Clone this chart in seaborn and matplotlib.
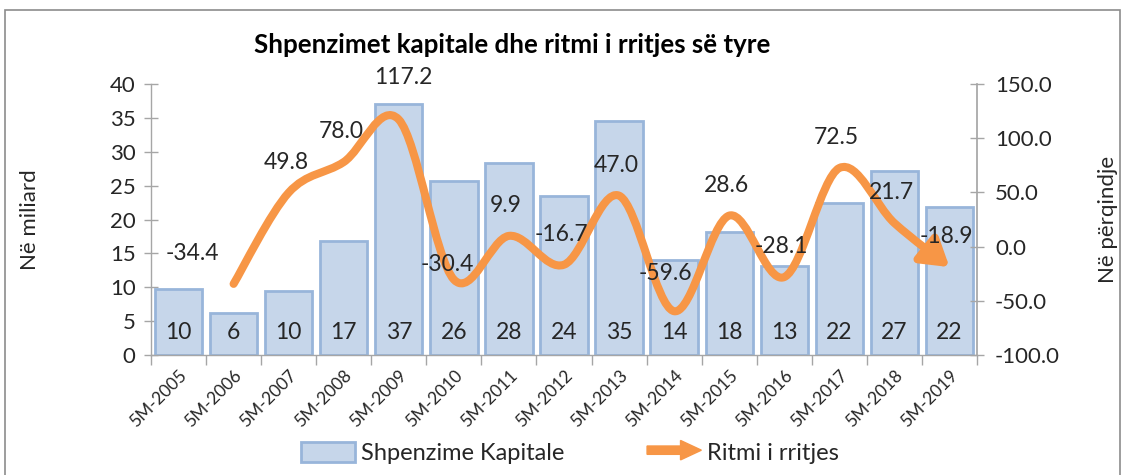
import numpy as np
import pandas as pd
import seaborn as sns
import matplotlib
matplotlib.use('Agg')
from matplotlib import pyplot as plt
from matplotlib.path import Path
import matplotlib.patches as mpatches
from matplotlib.legend_handler import HandlerPatch

# data
years = ['5M-2005', '5M-2006', '5M-2007', '5M-2008', '5M-2009', '5M-2010', '5M-2011',
         '5M-2012', '5M-2013', '5M-2014', '5M-2015', '5M-2016', '5M-2017', '5M-2018', '5M-2019']
capex = [9.7, 6.2, 9.4, 16.9, 37.1, 25.7, 28.4, 23.5, 34.6, 14.0, 18.1, 13.1, 22.4, 27.2, 21.9]
capex_labels = ['10', '6', '10', '17', '37', '26', '28', '24', '35', '14', '18', '13', '22', '27', '22']
growth_years = years[1:]
growth = [-34.4, 49.8, 78.0, 117.2, -30.4, 9.9, -16.7, 47.0, -59.6, 28.6, -28.1, 72.5, 21.7, -18.9]

BAR_FACE = '#C6D6EA'
BAR_EDGE = '#98B5DA'
ORANGE = '#F79646'
AXIS = '#A6A6A6'
TEXT = '#262626'

# label nudges (points) where the default spot above the point is not used
label_offset = {'5M-2006': (-30, 22), '5M-2009': (3, 30), '5M-2010': (-5, 11), '5M-2014': (-6, 27)}

sns.set_theme(style='white')
plt.rcParams['font.family'] = ['Lato', 'DejaVu Sans']

df = pd.DataFrame({'year': years, 'capex': capex})

W, H = 1127, 475
fig = plt.figure(figsize=(W / 100, H / 100), dpi=100)
ax1 = fig.add_axes([151 / W, 1 - 355 / H, (977 - 151) / W, (355 - 84) / H])

sns.barplot(data=df, x='year', y='capex', ax=ax1, color=BAR_FACE, saturation=1,
            edgecolor=BAR_EDGE, linewidth=2, width=0.86)
ax1.set_xlim(-0.5, len(years) - 0.5)
ax1.set_ylim(0, 40)
ax1.set_yticks(np.arange(0, 41, 5))
ax1.set_xlabel('')
ax1.set_ylabel('Në miliard', fontsize=16, color=TEXT)
ax1.yaxis.set_label_coords((40 - 151) / 826, 0.5)

# bar value labels near the base
for i, lab in enumerate(capex_labels):
    ax1.annotate(lab, xy=(i, 0), xytext=(0, 16), textcoords='offset points',
                 ha='center', va='center', fontsize=16.5, color=TEXT)

# x ticks between categories
ax1.set_xticks(range(len(years)))
ax1.set_xticklabels(years, rotation=45, ha='right', rotation_mode='anchor',
                    fontsize=12.5, color=TEXT)
ax1.set_xticks(np.arange(-0.5, len(years), 1), minor=True)
ax1.tick_params(axis='x', which='major', length=0, pad=9)
ax1.tick_params(axis='x', which='minor', length=7, width=1, color=AXIS, direction='out', bottom=True)
ax1.tick_params(axis='y', length=10, width=1, color=AXIS, direction='inout',
                labelsize=16, labelcolor=TEXT, pad=6, left=True)

for side in ['top', 'right']:
    ax1.spines[side].set_visible(False)
for side in ['left', 'bottom']:
    ax1.spines[side].set_color(AXIS)
    ax1.spines[side].set_linewidth(1)

# secondary axis for growth rate
ax2 = ax1.twinx()
ax2.set_ylim(-100, 150)
ax2.set_yticks(np.arange(-100, 151, 50))
ax2.set_yticklabels([f'{v:.1f}' for v in np.arange(-100, 151, 50)])
ax2.tick_params(axis='y', length=10, width=1, color=AXIS, direction='inout',
                labelsize=16, labelcolor=TEXT, pad=8, right=True)
ax2.set_ylabel('Në përqindje', fontsize=16, color=TEXT, rotation=90)
ax2.yaxis.set_label_coords((1098 - 151) / 826, 0.5)
for side in ['top', 'left', 'bottom']:
    ax2.spines[side].set_visible(False)
ax2.spines['right'].set_color(AXIS)
ax2.grid(False)
ax1.grid(False)

# smooth (Excel-style) bezier through the growth points, ending in an arrow
gx = np.array([years.index(y) for y in growth_years], dtype=float)
gy = np.array(growth, dtype=float)
pts = np.column_stack([gx, gy])
verts = [pts[0]]
codes = [Path.MOVETO]
n = len(pts)
for i in range(n - 1):
    p0 = pts[i - 1] if i > 0 else pts[i]
    p1 = pts[i]
    p2 = pts[i + 1]
    p3 = pts[i + 2] if i + 2 < n else pts[i + 1]
    c1 = p1 + (p2 - p0) / 6.0
    c2 = p2 - (p3 - p1) / 6.0
    verts += [c1, c2, p2]
    codes += [Path.CURVE4] * 3
curve = Path(np.array(verts), codes)
arrow = mpatches.FancyArrowPatch(path=curve, arrowstyle='-|>,head_length=0.8,head_width=0.5',
                                 mutation_scale=20, color=ORANGE, lw=5.8,
                                 transform=ax2.transData, capstyle='round', joinstyle='round')
ax2.add_patch(arrow)

for yr, x, y in zip(growth_years, gx, gy):
    ax2.annotate(f'{y:.1f}', xy=(x, y), xytext=label_offset.get(yr, (-2, 22)),
                 textcoords='offset points', ha='center', va='center',
                 fontsize=16.5, color=TEXT)

ax1.set_zorder(1)
ax2.set_zorder(2)

fig.text(512 / W, 1 - 45 / H, 'Shpenzimet kapitale dhe ritmi i rritjes së tyre',
         ha='center', va='center', fontsize=18.6, fontweight='bold', color='black')


# legend with an arrow handle for the line
def make_arrow(legend, orig_handle, xdescent, ydescent, width, height, fontsize):
    return mpatches.FancyArrow(0, height / 2, width, 0, width=6, head_width=14,
                               head_length=15, length_includes_head=True, color=ORANGE)


bar_handle = mpatches.Rectangle((0, 0), 1, 1, facecolor=BAR_FACE, edgecolor=BAR_EDGE, linewidth=2)
line_handle = mpatches.FancyArrow(0, 0, 1, 0, color=ORANGE)
fig.legend([bar_handle, line_handle], ['Shpenzime Kapitale', 'Ritmi i rritjes'],
           loc='center', bbox_to_anchor=(570 / W, 1 - 453 / H), ncol=2, frameon=False,
           fontsize=17, handlelength=2.3, handleheight=0.9, columnspacing=3.5,
           handletextpad=0.25, labelcolor=TEXT,
           handler_map={mpatches.FancyArrow: HandlerPatch(patch_func=make_arrow)})

# outer chart border
fig.add_artist(mpatches.Rectangle((5 / W, -0.01), 1115 / W, 1 - 10 / H + 0.01,
                                  transform=fig.transFigure, fill=False,
                                  edgecolor='#8C8C8C', linewidth=1.2))

fig.savefig('out.png', dpi=100)
